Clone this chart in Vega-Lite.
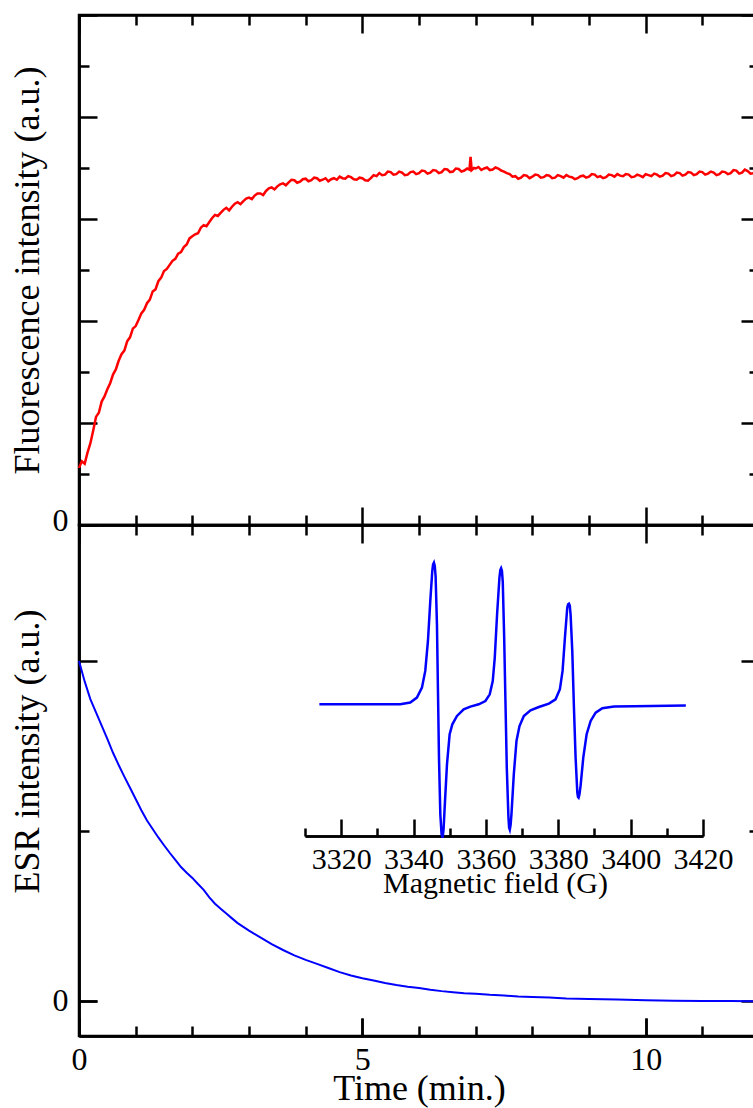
{
  "$schema": "https://vega.github.io/schema/vega-lite/v6.json",
  "background": "white",
  "padding": {"left": 7, "top": 12, "right": 0, "bottom": 0},
  "spacing": 0,
  "bounds": "flush",
  "config": {
    "font": "Liberation Serif",
    "view": {"stroke": "black", "strokeWidth": 2.5},
    "axis": {
      "grid": false, "domainColor": "black", "domainWidth": 2.5,
      "tickColor": "black", "tickWidth": 2.5,
      "labelFont": "Liberation Serif", "titleFont": "Liberation Serif",
      "labelFontSize": 32, "titleFontSize": 36, "labelColor": "black", "titleColor": "black",
      "titleFontWeight": "normal", "labelOverlap": false, "labelFlush": false
    }
  },
  "datasets": {
    "fluor": [
      {"t":0.00,"v":1.12},{"t":0.05,"v":1.25},{"t":0.10,"v":1.20},{"t":0.15,"v":1.42},{"t":0.20,"v":1.60},
      {"t":0.25,"v":1.85},{"t":0.30,"v":2.12},{"t":0.35,"v":2.20},{"t":0.40,"v":2.42},{"t":0.45,"v":2.52},
      {"t":0.50,"v":2.66},{"t":0.55,"v":2.78},{"t":0.60,"v":2.95},{"t":0.65,"v":3.05},{"t":0.70,"v":3.22},
      {"t":0.75,"v":3.35},{"t":0.80,"v":3.42},{"t":0.85,"v":3.60},{"t":0.90,"v":3.68},{"t":0.95,"v":3.85},
      {"t":1.00,"v":3.90},{"t":1.05,"v":4.02},{"t":1.10,"v":4.15},{"t":1.15,"v":4.22},{"t":1.20,"v":4.35},
      {"t":1.25,"v":4.42},{"t":1.30,"v":4.58},{"t":1.35,"v":4.62},{"t":1.40,"v":4.78},{"t":1.45,"v":4.85},
      {"t":1.50,"v":4.98},{"t":1.55,"v":5.02},{"t":1.60,"v":5.10},{"t":1.65,"v":5.18},{"t":1.70,"v":5.22},
      {"t":1.75,"v":5.32},{"t":1.80,"v":5.35},{"t":1.85,"v":5.45},{"t":1.90,"v":5.50},{"t":1.95,"v":5.62},
      {"t":2.00,"v":5.66},{"t":2.05,"v":5.70},{"t":2.10,"v":5.72},{"t":2.15,"v":5.83},{"t":2.20,"v":5.88},
      {"t":2.25,"v":5.86},{"t":2.30,"v":5.94},{"t":2.35,"v":6.02},{"t":2.40,"v":6.08},{"t":2.45,"v":6.06},
      {"t":2.50,"v":6.12},{"t":2.55,"v":6.18},{"t":2.60,"v":6.22},{"t":2.65,"v":6.17},{"t":2.70,"v":6.24},
      {"t":2.75,"v":6.30},{"t":2.80,"v":6.33},{"t":2.85,"v":6.29},{"t":2.90,"v":6.35},{"t":2.95,"v":6.40},
      {"t":3.00,"v":6.42},{"t":3.05,"v":6.39},{"t":3.10,"v":6.46},{"t":3.15,"v":6.50},{"t":3.20,"v":6.50},
      {"t":3.25,"v":6.47},{"t":3.30,"v":6.55},{"t":3.35,"v":6.60},{"t":3.40,"v":6.62},{"t":3.45,"v":6.58},
      {"t":3.50,"v":6.64},{"t":3.55,"v":6.68},{"t":3.60,"v":6.70},{"t":3.65,"v":6.66},{"t":3.70,"v":6.72},
      {"t":3.75,"v":6.77},{"t":3.80,"v":6.76},{"t":3.85,"v":6.71},{"t":3.90,"v":6.73},{"t":3.95,"v":6.78},
      {"t":4.00,"v":6.79},{"t":4.05,"v":6.74},{"t":4.10,"v":6.76},{"t":4.15,"v":6.81},{"t":4.20,"v":6.80},
      {"t":4.25,"v":6.75},{"t":4.30,"v":6.77},{"t":4.35,"v":6.80},{"t":4.40,"v":6.74},{"t":4.45,"v":6.78},
      {"t":4.50,"v":6.80},{"t":4.55,"v":6.77},{"t":4.60,"v":6.83},{"t":4.65,"v":6.80},{"t":4.70,"v":6.79},
      {"t":4.75,"v":6.84},{"t":4.80,"v":6.82},{"t":4.85,"v":6.78},{"t":4.90,"v":6.77},{"t":4.95,"v":6.81},
      {"t":5.00,"v":6.80},{"t":5.05,"v":6.76},{"t":5.10,"v":6.75},{"t":5.15,"v":6.80},{"t":5.20,"v":6.86},
      {"t":5.25,"v":6.84},{"t":5.30,"v":6.90},{"t":5.35,"v":6.86},{"t":5.40,"v":6.87},{"t":5.45,"v":6.93},
      {"t":5.50,"v":6.92},{"t":5.55,"v":6.87},{"t":5.60,"v":6.88},{"t":5.65,"v":6.93},{"t":5.70,"v":6.91},
      {"t":5.75,"v":6.86},{"t":5.80,"v":6.87},{"t":5.85,"v":6.92},{"t":5.90,"v":6.93},{"t":5.95,"v":6.88},
      {"t":6.00,"v":6.90},{"t":6.05,"v":6.95},{"t":6.10,"v":6.94},{"t":6.15,"v":6.89},{"t":6.20,"v":6.91},
      {"t":6.25,"v":6.96},{"t":6.30,"v":6.95},{"t":6.35,"v":6.90},{"t":6.40,"v":6.92},{"t":6.45,"v":6.98},
      {"t":6.50,"v":6.97},{"t":6.55,"v":6.92},{"t":6.60,"v":6.93},{"t":6.65,"v":6.99},{"t":6.70,"v":6.98},
      {"t":6.75,"v":6.93},{"t":6.80,"v":6.95},{"t":6.85,"v":6.99},{"t":6.89,"v":6.97},
      {"t":6.91,"v":7.22},{"t":6.93,"v":6.96},{"t":6.97,"v":7.00},{"t":7.00,"v":6.99},{"t":7.05,"v":7.02},
      {"t":7.10,"v":6.96},{"t":7.15,"v":6.99},{"t":7.20,"v":7.01},{"t":7.25,"v":6.96},{"t":7.30,"v":6.97},
      {"t":7.35,"v":7.01},{"t":7.40,"v":6.99},{"t":7.45,"v":6.95},{"t":7.50,"v":6.93},{"t":7.55,"v":6.90},
      {"t":7.60,"v":6.88},{"t":7.65,"v":6.83},{"t":7.70,"v":6.84},{"t":7.75,"v":6.79},{"t":7.80,"v":6.81},
      {"t":7.85,"v":6.86},{"t":7.90,"v":6.85},{"t":7.95,"v":6.80},{"t":8.00,"v":6.83},{"t":8.05,"v":6.87},
      {"t":8.10,"v":6.86},{"t":8.15,"v":6.81},{"t":8.20,"v":6.82},{"t":8.25,"v":6.86},{"t":8.30,"v":6.85},
      {"t":8.35,"v":6.80},{"t":8.40,"v":6.81},{"t":8.45,"v":6.86},{"t":8.50,"v":6.84},{"t":8.55,"v":6.81},
      {"t":8.60,"v":6.86},{"t":8.65,"v":6.83},{"t":8.70,"v":6.82},{"t":8.75,"v":6.78},{"t":8.80,"v":6.80},
      {"t":8.85,"v":6.84},{"t":8.90,"v":6.85},{"t":8.95,"v":6.81},{"t":9.00,"v":6.83},{"t":9.05,"v":6.88},
      {"t":9.10,"v":6.87},{"t":9.15,"v":6.82},{"t":9.20,"v":6.84},{"t":9.25,"v":6.80},{"t":9.30,"v":6.82},
      {"t":9.35,"v":6.87},{"t":9.40,"v":6.86},{"t":9.45,"v":6.83},{"t":9.50,"v":6.88},{"t":9.55,"v":6.85},
      {"t":9.60,"v":6.84},{"t":9.65,"v":6.88},{"t":9.70,"v":6.87},{"t":9.75,"v":6.82},{"t":9.80,"v":6.83},
      {"t":9.85,"v":6.87},{"t":9.90,"v":6.85},{"t":9.95,"v":6.82},{"t":10.00,"v":6.88},{"t":10.05,"v":6.86},
      {"t":10.10,"v":6.84},{"t":10.15,"v":6.89},{"t":10.20,"v":6.87},{"t":10.25,"v":6.83},{"t":10.30,"v":6.85},
      {"t":10.35,"v":6.90},{"t":10.40,"v":6.89},{"t":10.45,"v":6.84},{"t":10.50,"v":6.86},{"t":10.55,"v":6.91},
      {"t":10.60,"v":6.90},{"t":10.65,"v":6.85},{"t":10.70,"v":6.87},{"t":10.75,"v":6.92},{"t":10.80,"v":6.91},
      {"t":10.85,"v":6.86},{"t":10.90,"v":6.88},{"t":10.95,"v":6.93},{"t":11.00,"v":6.92},{"t":11.05,"v":6.87},
      {"t":11.10,"v":6.89},{"t":11.15,"v":6.93},{"t":11.20,"v":6.91},{"t":11.25,"v":6.86},{"t":11.30,"v":6.88},
      {"t":11.35,"v":6.93},{"t":11.40,"v":6.92},{"t":11.45,"v":6.88},{"t":11.50,"v":6.90},{"t":11.55,"v":6.96},
      {"t":11.60,"v":6.95},{"t":11.65,"v":6.89},{"t":11.70,"v":6.91},{"t":11.75,"v":6.97},{"t":11.80,"v":6.94},
      {"t":11.85,"v":6.89},{"t":11.90,"v":6.90},{"t":11.95,"v":6.95},{"t":12.00,"v":6.92}
    ],
    "esr": [
      {"t":0.0,"v":1.0},{"t":0.1,"v":0.94},{"t":0.2,"v":0.888},{"t":0.3,"v":0.849},{"t":0.4,"v":0.81},
      {"t":0.5,"v":0.771},{"t":0.6,"v":0.73},{"t":0.7,"v":0.694},{"t":0.8,"v":0.66},{"t":0.9,"v":0.627},
      {"t":1.0,"v":0.594},{"t":1.1,"v":0.561},{"t":1.2,"v":0.531},{"t":1.3,"v":0.506},{"t":1.4,"v":0.481},
      {"t":1.5,"v":0.458},{"t":1.6,"v":0.436},{"t":1.7,"v":0.415},{"t":1.8,"v":0.394},{"t":1.9,"v":0.377},
      {"t":2.0,"v":0.362},{"t":2.1,"v":0.344},{"t":2.2,"v":0.327},{"t":2.3,"v":0.305},{"t":2.4,"v":0.286},
      {"t":2.5,"v":0.271},{"t":2.6,"v":0.257},{"t":2.7,"v":0.243},{"t":2.8,"v":0.229},{"t":2.9,"v":0.218},
      {"t":3.0,"v":0.207},{"t":3.2,"v":0.187},{"t":3.4,"v":0.167},{"t":3.6,"v":0.15},{"t":3.8,"v":0.134},
      {"t":4.0,"v":0.121},{"t":4.2,"v":0.109},{"t":4.4,"v":0.097},{"t":4.6,"v":0.085},{"t":4.8,"v":0.075},
      {"t":5.0,"v":0.067},{"t":5.2,"v":0.06},{"t":5.4,"v":0.053},{"t":5.6,"v":0.047},{"t":5.8,"v":0.042},
      {"t":6.0,"v":0.038},{"t":6.2,"v":0.033},{"t":6.4,"v":0.029},{"t":6.6,"v":0.026},{"t":6.8,"v":0.023},
      {"t":7.0,"v":0.021},{"t":7.25,"v":0.018},{"t":7.5,"v":0.016},{"t":7.75,"v":0.013},{"t":8.0,"v":0.012},
      {"t":8.3,"v":0.010},{"t":8.6,"v":0.007},{"t":9.0,"v":0.006},{"t":9.5,"v":0.004},{"t":10.0,"v":0.002},
      {"t":10.5,"v":0.001},{"t":11.0,"v":0.0},{"t":11.5,"v":0.0},{"t":12.0,"v":-0.001}
    ],
    "spectrum": [
      {"gauss":3313.97,"amp":0},{"gauss":3336.32,"amp":0},{"gauss":3339.09,"amp":0.012},{"gauss":3340.93,"amp":0.047},
      {"gauss":3342.32,"amp":0.117},{"gauss":3343.24,"amp":0.235},{"gauss":3343.98,"amp":0.446},{"gauss":3344.63,"amp":0.728},
      {"gauss":3345.18,"amp":0.939},{"gauss":3345.40,"amp":0.985},{"gauss":3345.64,"amp":0.998},{"gauss":3345.87,"amp":0.975},
      {"gauss":3346.10,"amp":0.900},{"gauss":3346.47,"amp":0.563},
      {"gauss":3346.75,"amp":0.094},{"gauss":3347.03,"amp":-0.376},{"gauss":3347.40,"amp":-0.775},{"gauss":3347.75,"amp":-0.915},
      {"gauss":3348.04,"amp":-0.939},{"gauss":3348.30,"amp":-0.880},
      {"gauss":3348.60,"amp":-0.728},{"gauss":3349.24,"amp":-0.423},{"gauss":3349.98,"amp":-0.211},{"gauss":3350.72,"amp":-0.141},
      {"gauss":3352.01,"amp":-0.082},{"gauss":3353.86,"amp":-0.035},{"gauss":3355.71,"amp":-0.016},{"gauss":3358.01,"amp":0},
      {"gauss":3359.86,"amp":0.023},{"gauss":3361.06,"amp":0.070},{"gauss":3361.89,"amp":0.164},{"gauss":3362.45,"amp":0.329},
      {"gauss":3363.09,"amp":0.634},{"gauss":3363.74,"amp":0.892},{"gauss":3363.98,"amp":0.945},{"gauss":3364.20,"amp":0.958},
      {"gauss":3364.43,"amp":0.940},{"gauss":3364.66,"amp":0.860},
      {"gauss":3365.03,"amp":0.493},{"gauss":3365.40,"amp":0.023},{"gauss":3365.77,"amp":-0.446},{"gauss":3366.23,"amp":-0.798},
      {"gauss":3366.42,"amp":-0.870},{"gauss":3366.60,"amp":-0.883},{"gauss":3366.82,"amp":-0.850},
      {"gauss":3367.06,"amp":-0.775},{"gauss":3367.71,"amp":-0.493},{"gauss":3368.45,"amp":-0.258},
      {"gauss":3369.28,"amp":-0.153},{"gauss":3370.48,"amp":-0.082},{"gauss":3372.33,"amp":-0.042},{"gauss":3374.64,"amp":-0.019},
      {"gauss":3377.41,"amp":0.005},{"gauss":3379.25,"amp":0.035},{"gauss":3380.45,"amp":0.106},{"gauss":3381.19,"amp":0.235},
      {"gauss":3381.84,"amp":0.469},{"gauss":3382.48,"amp":0.681},{"gauss":3382.72,"amp":0.705},{"gauss":3382.95,"amp":0.709},
      {"gauss":3383.18,"amp":0.695},{"gauss":3383.41,"amp":0.630},
      {"gauss":3383.87,"amp":0.376},{"gauss":3384.33,"amp":-0.023},{"gauss":3384.79,"amp":-0.376},{"gauss":3385.26,"amp":-0.622},
      {"gauss":3385.45,"amp":-0.652},{"gauss":3385.62,"amp":-0.657},{"gauss":3385.85,"amp":-0.635},
      {"gauss":3386.18,"amp":-0.570},{"gauss":3386.91,"amp":-0.376},{"gauss":3387.84,"amp":-0.211},
      {"gauss":3388.95,"amp":-0.117},{"gauss":3390.33,"amp":-0.059},{"gauss":3392.18,"amp":-0.028},{"gauss":3395.41,"amp":-0.016},
      {"gauss":3400.95,"amp":-0.014},{"gauss":3415.26,"amp":-0.009}
    ]
  },
  "vconcat": [
    {
      "width": 680,
      "height": 510,
      "data": {"name": "fluor"},
      "layer": [
        {
          "mark": {"type": "line", "color": "#ff0000", "strokeWidth": 2.5},
          "encoding": {
            "x": {"field": "t", "type": "quantitative", "scale": {"domain": [0, 12], "nice": false},
              "axis": {"orient": "bottom", "values": [0,1,2,3,4,5,6,7,8,9,10,11,12], "labels": false, "title": null,
                "tickSize": {"condition": {"test": "datum.value % 5 === 0", "value": -18}, "value": -10}}},
            "y": {"field": "v", "type": "quantitative", "scale": {"domain": [0, 10], "nice": false},
              "axis": {"orient": "left", "values": [0], "title": "Fluorescence intensity (a.u.)",
                "labelPadding": 29, "labelOffset": -5, "titlePadding": 6, "tickSize": -18}}
          }
        },
        {
          "mark": {"type": "line", "strokeOpacity": 0},
          "encoding": {
            "x": {"field": "t", "type": "quantitative", "scale": {"domain": [0, 12], "nice": false},
              "axis": {"orient": "top", "values": [0,1,2,3,4,5,6,7,8,9,10,11,12], "labels": false, "title": null,
                "tickSize": {"condition": {"test": "datum.value % 5 === 0", "value": -18}, "value": -10}}},
            "y": {"field": "v", "type": "quantitative", "scale": {"domain": [0, 10], "nice": false},
              "axis": {"orient": "right", "values": [0,1,2,3,4,5,6,7,8,9,10], "labels": false, "title": null,
                "tickSize": {"condition": {"test": "datum.value % 2 === 0", "value": -18}, "value": -10}}}
          }
        },
        {
          "mark": {"type": "line", "strokeOpacity": 0},
          "encoding": {
            "x": {"field": "t", "type": "quantitative", "scale": {"domain": [0, 12], "nice": false}, "axis": null},
            "y": {"field": "v", "type": "quantitative", "scale": {"domain": [0, 10], "nice": false},
              "axis": {"orient": "left", "values": [0,1,2,3,4,5,6,7,8,9,10], "labels": false, "title": null,
                "tickSize": {"condition": {"test": "datum.value % 2 === 0", "value": -18}, "value": -10}}}
          }
        }
      ],
      "resolve": {"axis": {"x": "independent", "y": "independent"}}
    },
    {
      "width": 680,
      "height": 511,
      "layer": [
        {
          "data": {"name": "esr"},
          "mark": {"type": "line", "color": "#0000ff", "strokeWidth": 2},
          "encoding": {
            "x": {"field": "t", "type": "quantitative", "scale": {"domain": [0, 12], "nice": false},
              "axis": {"orient": "bottom", "values": [0, 5, 10], "title": "Time (min.)",
                "labelPadding": 26, "titlePadding": -4, "tickSize": -18}},
            "y": {"field": "v", "type": "quantitative", "scale": {"domain": [-0.103, 1.4], "nice": false},
              "axis": {"orient": "left", "values": [0], "title": "ESR intensity (a.u.)",
                "labelPadding": 29, "titlePadding": 6, "titleY": 226, "tickSize": -18}}
          }
        },
        {
          "data": {"name": "esr"},
          "mark": {"type": "line", "strokeOpacity": 0},
          "encoding": {
            "x": {"field": "t", "type": "quantitative", "scale": {"domain": [0, 12], "nice": false},
              "axis": {"orient": "top", "values": [0,1,2,3,4,5,6,7,8,9,10,11,12], "labels": false, "title": null,
                "tickSize": {"condition": {"test": "datum.value % 5 === 0", "value": -18}, "value": -10}}},
            "y": {"field": "v", "type": "quantitative", "scale": {"domain": [-0.103, 1.4], "nice": false},
              "axis": {"orient": "right", "values": [0, 0.5, 1], "labels": false, "title": null,
                "tickSize": {"condition": {"test": "datum.value % 1 === 0", "value": -18}, "value": -10}}}
          }
        },
        {
          "data": {"name": "esr"},
          "mark": {"type": "line", "strokeOpacity": 0},
          "encoding": {
            "x": {"field": "t", "type": "quantitative", "scale": {"domain": [0, 12], "nice": false},
              "axis": {"orient": "bottom", "values": [0,1,2,3,4,5,6,7,8,9,10,11,12], "labels": false, "title": null,
                "tickSize": {"condition": {"test": "datum.value % 5 === 0", "value": -18}, "value": -10}}},
            "y": {"field": "v", "type": "quantitative", "scale": {"domain": [-0.103, 1.4], "nice": false},
              "axis": {"orient": "left", "values": [0, 0.5, 1], "labels": false, "title": null,
                "tickSize": {"condition": {"test": "datum.value % 1 === 0", "value": -18}, "value": -10}}}
          }
        },
        {
          "data": {"name": "spectrum"},
          "mark": {"type": "line", "color": "#0000ff", "strokeWidth": 2.5},
          "encoding": {
            "x": {"field": "gauss", "type": "quantitative", "scale": {"domain": [3310, 3420], "range": [226, 624], "nice": false, "zero": false},
              "axis": {"orient": "bottom", "offset": -200, "values": [3320,3340,3360,3380,3400,3420],
                "format": "d", "labelFontSize": 30, "titleFontSize": 30,
                "labelPadding": 25, "titlePadding": -6, "titleX": 416, "title": "Magnetic field (G)", "tickSize": -17}},
            "y": {"field": "amp", "type": "quantitative", "scale": {"domain": [-1, 1], "range": [321.3, 37.3], "nice": false, "zero": false},
              "axis": null}
          }
        },
        {
          "data": {"name": "spectrum"},
          "mark": {"type": "line", "strokeOpacity": 0},
          "encoding": {
            "x": {"field": "gauss", "type": "quantitative", "scale": {"domain": [3310, 3420], "range": [226, 624], "nice": false, "zero": false},
              "axis": {"orient": "bottom", "offset": -200, "values": [3310,3330,3350,3370,3390,3410],
                "labels": false, "title": null, "tickSize": -8}},
            "y": {"field": "amp", "type": "quantitative", "scale": {"domain": [-1, 1], "range": [321.3, 37.3], "nice": false, "zero": false},
              "axis": null}
          }
        }
      ],
      "resolve": {"scale": {"x": "independent", "y": "independent"}, "axis": {"x": "independent", "y": "independent"}}
    }
  ]
}
